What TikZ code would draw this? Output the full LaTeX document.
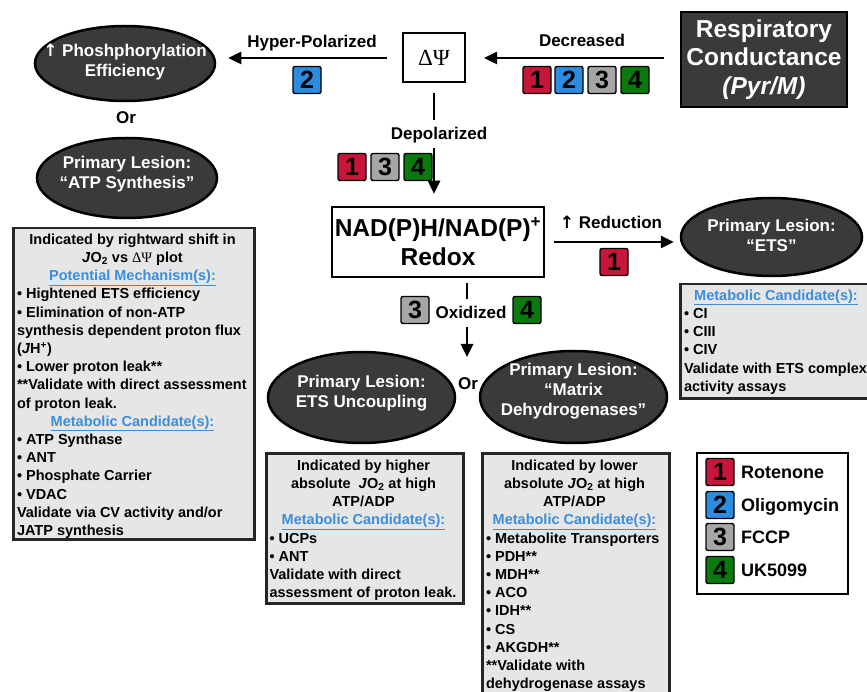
\documentclass[tikz,border=0pt]{standalone}
\usepackage{fontspec}
\setmainfont{Liberation Sans}
\newfontfamily\grkfont{Liberation Serif}
\newfontfamily\arrfont{DejaVu Sans}
\usetikzlibrary{shapes.geometric,arrows.meta}
\definecolor{darkfill}{HTML}{3A3A3A}
\definecolor{boxfill}{HTML}{E6E6E6}
\definecolor{hdrblue}{HTML}{3A8EDB}
\definecolor{bred}{HTML}{C8163A}
\definecolor{bblue}{HTML}{2B8CE0}
\definecolor{bgray}{HTML}{A6A6A9}
\definecolor{bgreen}{HTML}{0A7A0E}
\newlength\lw
\newcommand\LL[1]{\makebox[\lw][l]{#1}}
\newcommand\hdr[1]{{\color{hdrblue}\underline{#1}}}
\newcommand\upar{{\arrfont\bfseries ↑}}
\newcommand\DPsiTxt{{\grkfont\mdseries ΔΨ}}
\tikzset{
 flow/.style={line width=2.5pt, -{Triangle[length=13pt,width=12pt]}},
 darkell/.style={ellipse, draw=black, line width=2.5pt, fill=darkfill, inner sep=0pt},
 elltext/.style={text=white, align=center, inner sep=0pt, font=\fontsize{17}{20}\selectfont\bfseries},
 lbl/.style={font=\fontsize{17}{20}\selectfont\bfseries, text height=12pt, text depth=0pt, inner sep=1pt},
 gap/.style={fill=white, inner xsep=2pt, inner ysep=8pt},
 badge/.style={draw=black, line width=1.4pt, rounded corners=2pt, minimum width=28pt, minimum height=27pt, inner sep=0pt, font=\fontsize{25}{25}\selectfont\bfseries},
 detbox/.style={draw=black!85, line width=2.5pt, fill=boxfill, inner sep=0pt},
 dtext/.style={align=center, inner sep=0pt, font=\fontsize{14.5}{18.2}\selectfont\bfseries},
 legtext/.style={anchor=west, font=\fontsize{18}{18}\selectfont\bfseries, text height=13pt, text depth=0pt, inner sep=0pt},
}
\begin{document}
\begin{tikzpicture}[x=1pt,y=-1pt]
\useasboundingbox[fill=white] (0,0) rectangle (867,692);

% top row
\node[draw=black, line width=2.5pt, fill=darkfill, text=white, align=center, inner sep=0pt,
      minimum width=166pt, minimum height=95pt, font=\fontsize{24.5}{28.5}\selectfont\bfseries]
      (resp) at (764,59.5) {Respiratory\\Conductance\\\textit{(Pyr/M)}};
\node[draw=black, line width=2pt, fill=white, inner sep=0pt, minimum width=62pt, minimum height=49pt,
      font=\fontsize{23}{23}\selectfont] (dpsi) at (434,58) {\DPsiTxt};
\node[darkell, minimum width=180pt, minimum height=75pt] (phos) at (125,63.5) {};
\node[elltext] (phosT) at (125,62) {\upar\ Phoshphorylation\\Efficiency};
\node[lbl] (or1) at (126,118) {Or};
\node[darkell, minimum width=180pt, minimum height=80pt] (atps) at (127,178) {};
\node[elltext] (atpsT) at (127,174) {Primary Lesion:\\“ATP Synthesis”};

\draw[flow, shorten <=16pt, shorten >=18pt] (resp.west |- dpsi.east) -- (dpsi.east);
\node[lbl] (decr) at (582,41) {Decreased};
\node[badge, fill=bred]   (d1) at (537,80) {1};
\node[badge, fill=bblue]  (d2) at (569,80) {2};
\node[badge, fill=bgray]  (d3) at (602,80) {3};
\node[badge, fill=bgreen] (d4) at (635,80) {4};

\draw[flow, shorten <=15pt, shorten >=12pt] (dpsi.west) -- (dpsi.west -| phos.east);
\node[lbl] (hyper) at (312,42) {Hyper-Polarized};
\node[badge, fill=bblue] (h2) at (307,80) {2};

% NAD box
\node[draw=black, line width=2.5pt, fill=white, align=center, inner sep=0pt,
      minimum width=212pt, minimum height=70pt, font=\fontsize{24.5}{29}\selectfont\bfseries]
      (nad) at (438,242) {NAD(P)H/NAD(P)\textsuperscript{+}\\Redox};

\draw[flow, shorten <=9.5pt, shorten >=12pt] (dpsi.south) -- (dpsi.south |- nad.north);
\node[lbl, gap] (depol) at (439,134) {Depolarized};
\node[badge, fill=bred]   (p1) at (352,167) {1};
\node[badge, fill=bgray]  (p3) at (385,167) {3};
\node[badge, fill=bgreen] (p4) at (418,167) {4};

% ETS
\node[darkell, minimum width=181pt, minimum height=78pt] (ets) at (771.5,237) {};
\node[elltext] (etsT) at (771.5,235) {Primary Lesion:\\“ETS”};
\draw[flow, shorten <=9pt, shorten >=6pt] (nad.east) -- (nad.east -| ets.west);
\node[lbl] (reduc) at (611,223) {\upar\ Reduction};
\node[badge, fill=bred] (r1) at (614,262) {1};

% Oxidized
\coordinate (oxend) at (467,357);
\draw[flow, shorten <=5pt] (nad.south -| oxend) -- (oxend);
\node[lbl, gap] (oxid) at (471,313) {Oxidized};
\node[badge, fill=bgray]  (o3) at (415,310) {3};
\node[badge, fill=bgreen] (o4) at (527,310) {4};

\node[darkell, minimum width=187pt, minimum height=91pt] (unc) at (361.5,397.5) {};
\node[elltext] (uncT) at (361.5,393) {Primary Lesion:\\ETS Uncoupling};
\node[lbl] (or2) at (468,383) {Or};
\node[darkell, minimum width=187pt, minimum height=92pt] (mdh) at (573.5,397) {};
\node[elltext] (mdhT) at (573.5,391) {Primary Lesion:\\“Matrix\\Dehydrogenases”};

% detail boxes
\node[detbox, anchor=north west, minimum width=241pt, minimum height=311pt] (lbox) at (12,227) {};
\setlength\lw{231pt}
\node[dtext, anchor=north] (ltext) at (132.5,233.5) {Indicated by rightward shift in\\
\textit{J}O\textsubscript{2} vs \DPsiTxt\ plot\\
\hdr{Potential Mechanism(s):}\\
\LL{• Hightened ETS efficiency}\\
\LL{• Elimination of non-ATP}\\
\LL{synthesis dependent proton flux}\\
\LL{(\textit{J}H\textsuperscript{+})}\\
\LL{• Lower proton leak**}\\
\LL{**Validate with direct assessment}\\
\LL{of proton leak.}\\
\hdr{Metabolic Candidate(s):}\\
\LL{• ATP Synthase}\\
\LL{• ANT}\\
\LL{• Phosphate Carrier}\\
\LL{• VDAC}\\
\LL{Validate via CV activity and/or}\\
\LL{JATP synthesis}};

\node[detbox, anchor=north west, minimum width=197pt, minimum height=150pt] (ubox) at (265,452) {};
\setlength\lw{188pt}
\node[dtext, anchor=north] (utext) at (363.5,459.5) {Indicated by higher\\
absolute \ \textit{J}O\textsubscript{2} at high\\
ATP/ADP\\
\hdr{Metabolic Candidate(s):}\\
\LL{• UCPs}\\
\LL{• ANT}\\
\LL{Validate with direct}\\
\LL{assessment of proton leak.}};

\node[detbox, anchor=north west, minimum width=187pt, minimum height=260pt] (mbox) at (481,452) {};
\setlength\lw{177pt}
\node[dtext, anchor=north] (mtext) at (574.5,459.5) {Indicated by lower\\
absolute \textit{J}O\textsubscript{2} at high\\
ATP/ADP\\
\hdr{Metabolic Candidate(s):}\\
\LL{• Metabolite Transporters}\\
\LL{• PDH**}\\
\LL{• MDH**}\\
\LL{• ACO}\\
\LL{• IDH**}\\
\LL{• CS}\\
\LL{• AKGDH**}\\
\LL{**Validate with}\\
\LL{dehydrogenase assays}};

\node[detbox, anchor=north west, minimum width=200pt, minimum height=114pt] (ebox) at (679,283) {};
\setlength\lw{184pt}
\node[dtext, anchor=north] (etext) at (776,289.5) {\hdr{Metabolic Candidate(s):}\\
\LL{• CI}\\
\LL{• CIII}\\
\LL{• CIV}\\
\LL{Validate with ETS complex}\\
\LL{activity assays}};

% legend
\node[draw=black, line width=2pt, fill=white, anchor=north west, minimum width=151pt, minimum height=141pt, inner sep=0pt] (legend) at (696,452) {};
\node[badge, fill=bred]   (l1) at (720,472) {1};
\node[badge, fill=bblue]  (l2) at (720,505) {2};
\node[badge, fill=bgray]  (l3) at (720,537) {3};
\node[badge, fill=bgreen] (l4) at (720,570) {4};
\node[legtext] (t1) at (741,472) {Rotenone};
\node[legtext] (t2) at (741,505) {Oligomycin};
\node[legtext] (t3) at (741,537) {FCCP};
\node[legtext] (t4) at (741,570) {UK5099};
\end{tikzpicture}
\end{document}
